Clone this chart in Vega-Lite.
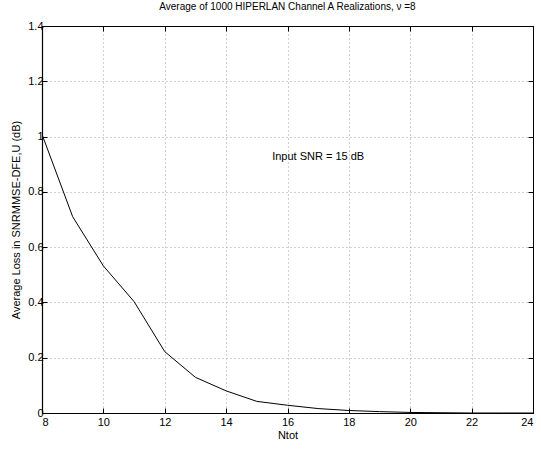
{
  "$schema": "https://vega.github.io/schema/vega-lite/v6.json",
  "width": 491,
  "height": 387,
  "autosize": "none",
  "padding": {"left": 42, "top": 26, "right": 8, "bottom": 36},
  "background": "white",
  "config": {
    "font": "Liberation Sans",
    "view": {"stroke": "black", "strokeWidth": 1},
    "axis": {
      "labelFont": "Liberation Sans", "titleFont": "Liberation Sans",
      "labelFontSize": 11, "titleFontSize": 11, "titleFontWeight": "normal",
      "labelColor": "black", "titleColor": "black",
      "domainColor": "black", "tickColor": "black",
      "gridColor": "#999999", "gridDash": [1, 3], "gridOpacity": 0.9, "gridWidth": 1
    },
    "title": {"font": "Liberation Sans", "fontSize": 10, "fontWeight": "normal", "color": "black"}
  },
  "title": {"text": "Average of 1000 HIPERLAN Channel A Realizations, ν =8", "offset": 8, "anchor": "middle"},
  "data": {"values": [
    {"n": 8, "loss": 1.008},
    {"n": 9, "loss": 0.71},
    {"n": 10, "loss": 0.532},
    {"n": 11, "loss": 0.403},
    {"n": 12, "loss": 0.222},
    {"n": 13, "loss": 0.129},
    {"n": 14, "loss": 0.08},
    {"n": 15, "loss": 0.042},
    {"n": 16, "loss": 0.028},
    {"n": 17, "loss": 0.016},
    {"n": 18, "loss": 0.009},
    {"n": 19, "loss": 0.005},
    {"n": 20, "loss": 0.002},
    {"n": 21, "loss": 0.001},
    {"n": 22, "loss": 0.0},
    {"n": 23, "loss": 0.0},
    {"n": 24, "loss": 0.0}
  ]},
  "layer": [
    {
      "mark": {"type": "line", "color": "black", "strokeWidth": 1, "clip": true},
      "encoding": {
        "x": {"field": "n", "type": "quantitative",
          "scale": {"domain": [8, 24], "nice": false, "zero": false},
          "axis": {"orient": "bottom", "values": [8,10,12,14,16,18,20,22,24], "grid": true,
            "title": "Ntot", "titlePadding": 2,
            "tickSize": -5, "labelPadding": 8, "domainWidth": 1.2, "format": "d"}},
        "y": {"field": "loss", "type": "quantitative",
          "scale": {"domain": [0, 1.4], "nice": false},
          "axis": {"orient": "left", "values": [0,0.2,0.4,0.6,0.8,1,1.2,1.4], "grid": true,
            "title": "Average Loss in SNRMMSE-DFE,U (dB)", "titlePadding": 6, "format": "~g",
            "tickSize": -5, "labelPadding": 4, "domainWidth": 1.2}}
      }
    },
    {
      "data": {"values": [{"n": 17.0, "loss": 0.925, "label": "Input SNR = 15 dB"}]},
      "mark": {"type": "text", "fontSize": 11, "color": "black", "font": "Liberation Sans", "align": "center", "baseline": "middle"},
      "encoding": {
        "x": {"field": "n", "type": "quantitative", "axis": {"orient": "top", "values": [8,10,12,14,16,18,20,22,24], "labels": false, "title": null, "tickSize": -5, "grid": false}},
        "y": {"field": "loss", "type": "quantitative", "axis": {"orient": "right", "values": [0,0.2,0.4,0.6,0.8,1,1.2,1.4], "labels": false, "title": null, "tickSize": -5, "grid": false}},
        "text": {"field": "label"}
      }
    }
  ],
  "resolve": {"axis": {"x": "independent", "y": "independent"}}
}
